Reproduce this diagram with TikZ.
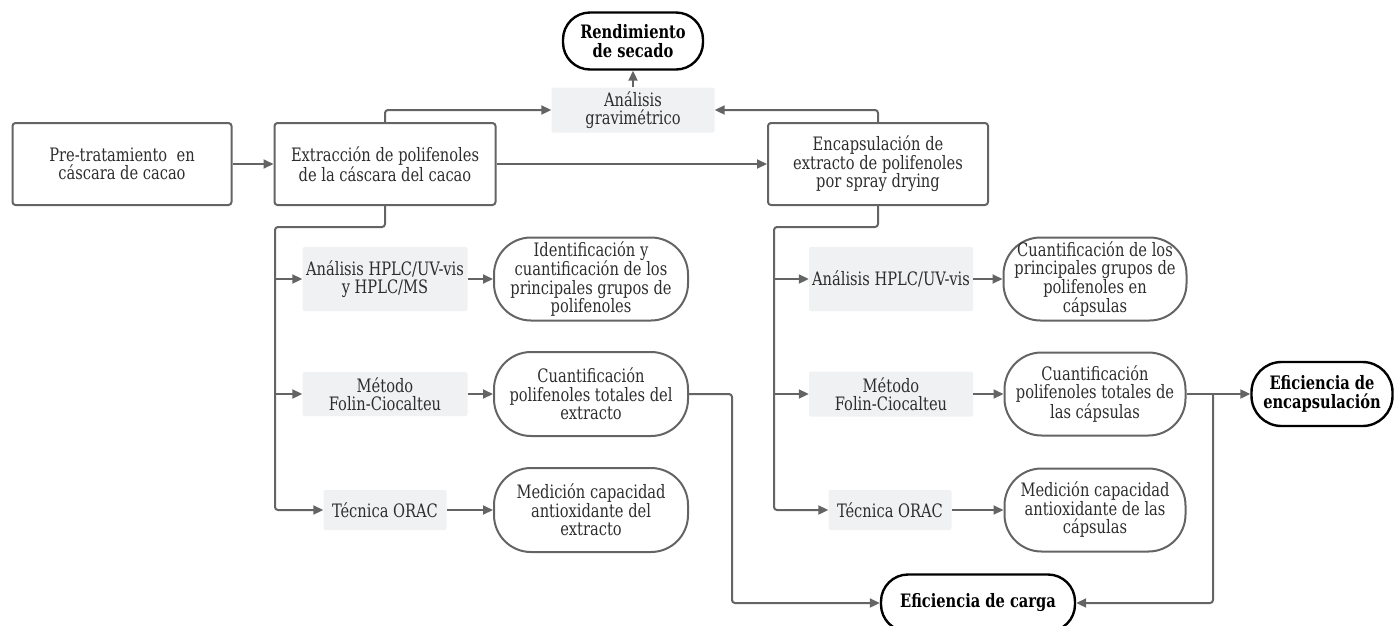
\documentclass[tikz,border=0pt]{standalone}
\usepackage{fontspec}
\setmainfont[FakeStretch=0.88]{DejaVu Serif Condensed}
\usetikzlibrary{arrows.meta}
\usetikzlibrary{positioning}

\definecolor{linegray}{RGB}{100,100,100}
\definecolor{boxgray}{RGB}{240,241,243}
\definecolor{textgray}{RGB}{45,45,45}

\newcommand{\letra}{\fontsize{18.5}{18.5}\selectfont}

\tikzset{
  paso/.style={draw=linegray, line width=2pt, rounded corners=3pt, fill=white, align=center, inner sep=0pt, text=textgray},
  tecnica/.style={fill=boxgray, rounded corners=2pt, align=center, inner sep=0pt, text=textgray},
  resultado/.style={draw=linegray, line width=2pt, rounded corners=37pt, align=center, inner sep=0pt, text=textgray},
  meta/.style={draw=black, line width=2.4pt, align=center, inner sep=0pt, font=\letra\bfseries},
  linea/.style={draw=linegray, line width=2pt, rounded corners=3pt},
  flecha/.style={linea, ->},
}

\begin{document}
\begin{tikzpicture}[x=1pt, y=-1pt, >={Triangle[length=10pt,width=9pt]},
  every node/.style={font=\letra}]
\clip (0,0) rectangle (1395,625);
\useasboundingbox (0,0) rectangle (1395,625);

% etapas
\node[paso, minimum width=219pt, minimum height=82pt] (pre) at (122,164) {Pre-tratamiento\ \ en\\cáscara de cacao};
\node[paso, minimum width=221pt, minimum height=82pt] (extr) at (385,164) {Extracción de polifenoles\\de la cáscara del cacao};
\node[paso, minimum width=220pt, minimum height=82pt] (encap) at (878,164) {Encapsulación de\\extracto de polifenoles\\por spray drying};
\node[tecnica, minimum width=163pt, minimum height=45pt] (grav) at (633,110) {Análisis\\gravimétrico};
\node[meta, rounded corners=27pt, minimum width=140pt, minimum height=57pt] (rend) at (633,41) {Rendimiento\\de secado};

% extracto
\node[tecnica, minimum width=165pt, minimum height=64pt] (hplcA) at (385,279) {Análisis HPLC/UV-vis\\y HPLC/MS};
\node[tecnica, minimum width=165pt, minimum height=44pt] (metA) at (385,394) {Método\\Folin-Ciocalteu};
\node[tecnica, minimum width=123pt, minimum height=40pt] (oracA) at (385,510) {Técnica ORAC};
\node[resultado, minimum width=194pt, minimum height=83pt] (idA) at (591,279) {Identificación y\\cuantificación de los\\principales grupos de\\polifenoles};
\node[resultado, minimum width=194pt, minimum height=84pt] (cuaA) at (591,394) {Cuantificación\\polifenoles totales del\\extracto};
\node[resultado, minimum width=194pt, minimum height=84pt] (medA) at (591,510) {Medición capacidad\\antioxidante del\\extracto};

% capsulas
\node[tecnica, minimum width=164pt, minimum height=64pt] (hplcB) at (891,279) {Análisis HPLC/UV-vis};
\node[tecnica, minimum width=164pt, minimum height=45pt] (metB) at (891,394) {Método\\Folin-Ciocalteu};
\node[tecnica, minimum width=123pt, minimum height=40pt] (oracB) at (890,510) {Técnica ORAC};
\node[resultado, minimum width=183pt, minimum height=83pt] (grpB) at (1095,279) {Cuantificación de los\\principales grupos de\\polifenoles en\\cápsulas};
\node[resultado, minimum width=181pt, minimum height=83pt] (cuaB) at (1095,394) {Cuantificación\\polifenoles totales de\\las cápsulas};
\node[resultado, minimum width=181pt, minimum height=83pt] (medB) at (1095,510) {Medición capacidad\\antioxidante de las\\cápsulas};

% eficiencias
\node[meta, rounded corners=27pt, minimum width=194pt, minimum height=57pt] (efCarga) at (978,603) {Eficiencia de carga};
\node[meta, rounded corners=30pt, minimum width=141pt, minimum height=64pt] (efEnc) at (1322,394) {Eficiencia de\\encapsulación};

\coordinate (troncoA) at (275,227);
\coordinate (troncoB) at (774,227);
\coordinate (bajaA) at (732,603);
\coordinate (nudo) at (1213,394);

\draw[flecha] (pre) -- (extr);
\draw[flecha] (extr) -- (encap);
\draw[flecha] (grav) -- (rend);
\draw[flecha] (extr.north) |- (grav.west);
\draw[flecha] (encap.north) |- (grav.east);

\draw[flecha] (extr.south) |- (troncoA) |- (oracA.west);
\draw[flecha] (encap.south) |- (troncoB) |- (oracB.west);
\foreach \n/\t in {hplcA/troncoA, metA/troncoA, hplcB/troncoB, metB/troncoB}
  \draw[flecha] (\t |- \n.west) -- (\n.west);
\foreach \a/\b in {hplcA/idA, metA/cuaA, oracA/medA, hplcB/grpB, metB/cuaB, oracB/medB}
  \draw[flecha] (\a) -- (\b);

\draw[flecha] (cuaA.east) -| (bajaA) -- (efCarga.west);
\draw[flecha] (cuaB.east) -- (efEnc.west);
\draw[flecha] (nudo) |- (efCarga.east);
\end{tikzpicture}
\end{document}
